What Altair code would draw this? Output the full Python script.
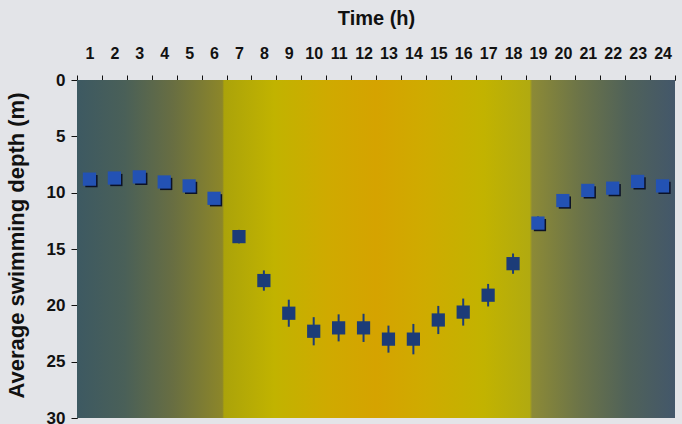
import altair as alt
import pandas as pd

# Mean swimming depth per hour of day, with standard error
hours = list(range(1, 25))
depth = [8.8, 8.7, 8.6, 9.05, 9.4, 10.5, 13.9, 17.8, 20.7, 22.3, 22.0, 22.0,
         23.0, 23.0, 21.3, 20.6, 19.1, 16.3, 12.7, 10.7, 9.8, 9.6, 9.0, 9.4]
err = [0.3, 0.3, 0.3, 0.3, 0.3, 0.4, 0.6, 0.9, 1.2, 1.25, 1.2, 1.25,
       1.2, 1.35, 1.25, 1.2, 1.0, 0.9, 0.6, 0.4, 0.3, 0.3, 0.3, 0.3]
light_hours = list(range(7, 19))

df = pd.DataFrame({
    "hour": hours,
    "depth": depth,
    "lo": [d - e for d, e in zip(depth, err)],
    "hi": [d + e for d, e in zip(depth, err)],
    "light": [h in light_hours for h in hours],
})

W, H = 598, 338
FONT = "'Liberation Sans Narrow', 'Liberation Sans', Arial, sans-serif"

x_enc = alt.X(
    "hour:O",
    scale=alt.Scale(paddingInner=0, paddingOuter=0),
    axis=alt.Axis(
        orient="top", title="Time (h)", labelAngle=0, tickBand="extent",
        labelFont=FONT, labelFontSize=16, labelFontWeight="bold",
        labelColor="#111", labelPadding=14, tickColor="#111", domainColor="#111",
        tickSize=5, titleFont="Liberation Sans", titleFontSize=20,
        titleFontWeight="bold", titleColor="#111", titleY=-52,
    ),
)
y_scale = alt.Scale(domain=[0, 30], reverse=True, nice=False)
y_axis = alt.Axis(
    values=[0, 5, 10, 15, 20, 25, 30], title="Average swimming depth (m)",
    labelFont="Liberation Sans", labelFontSize=17, labelFontWeight="bold",
    labelColor="#111", labelPadding=6, tickColor="#111", domainColor="#111",
    tickSize=6, grid=False, titleFont="Liberation Sans", titleFontSize=22,
    titleFontWeight="bold", titleColor="#111", titleX=-49, titleY=165,
)

# Day/night light gradient behind the data
background = alt.Chart(pd.DataFrame({"a": [0]})).mark_rect(
    fill=alt.LinearGradient(
        gradient="linear", x1=0, x2=1, y1=0, y2=0,
        stops=[
            alt.GradientStop(offset=0.0, color="#3d5962"),
            alt.GradientStop(offset=0.08, color="#4a6058"),
            alt.GradientStop(offset=0.16, color="#686e42"),
            alt.GradientStop(offset=0.243, color="#8c8629"),
            alt.GradientStop(offset=0.246, color="#aba30a"),
            alt.GradientStop(offset=0.33, color="#c1b300"),
            alt.GradientStop(offset=0.42, color="#cfaa00"),
            alt.GradientStop(offset=0.50, color="#d5a300"),
            alt.GradientStop(offset=0.58, color="#cfab00"),
            alt.GradientStop(offset=0.68, color="#c2b300"),
            alt.GradientStop(offset=0.757, color="#b1aa10"),
            alt.GradientStop(offset=0.761, color="#8c8a36"),
            alt.GradientStop(offset=0.84, color="#6c7448"),
            alt.GradientStop(offset=0.92, color="#506259"),
            alt.GradientStop(offset=1.0, color="#43576a"),
        ],
    ),
    stroke=None,
).encode(x=alt.value(0), x2=alt.value(W), y=alt.value(0), y2=alt.value(H))

base = alt.Chart(df)

bars = base.mark_rule(strokeWidth=2, color="#1c3c78").encode(
    x=x_enc,
    y=alt.Y("lo:Q", scale=y_scale, axis=y_axis),
    y2="hi:Q",
)

shadow = base.transform_filter("!datum.light").mark_square(
    size=150, opacity=1, color="#0c1226", xOffset=2, yOffset=2
).encode(x=x_enc, y=alt.Y("depth:Q", scale=y_scale, axis=y_axis))

points = base.mark_square(size=175, opacity=1).encode(
    x=x_enc,
    y=alt.Y("depth:Q", scale=y_scale, axis=y_axis),
    color=alt.condition("datum.light", alt.value("#1c3c78"), alt.value("#2352b4")),
)

chart = (
    alt.layer(background, bars, shadow, points)
    .properties(
        width=W, height=H, background="#e3e4e8",
        padding={"left": 77, "top": 80, "right": 7, "bottom": 6},
        autosize=alt.AutoSizeParams(type="none"),
    )
    .configure_view(stroke=None)
)

chart.save("out.html", embed_options={"renderer": "svg", "actions": False})
